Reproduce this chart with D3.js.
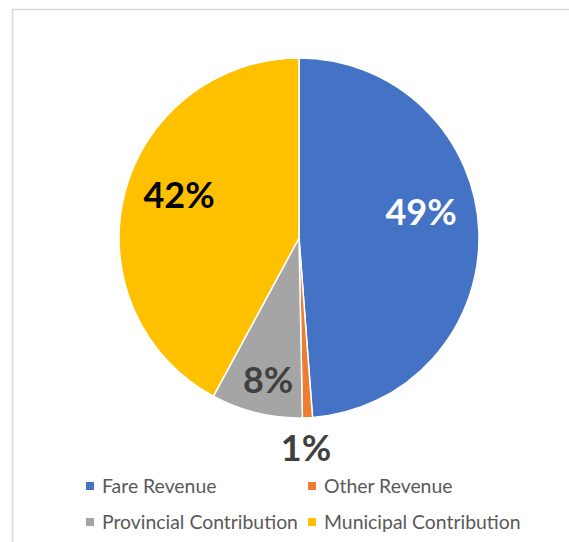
<!DOCTYPE html>
<html>
<head>
<meta charset="utf-8">
<script src="https://cdn.jsdelivr.net/npm/d3@7"></script>
<style>
  body { margin: 0; background: #fff; }
  svg { display: block; }
</style>
</head>
<body>
<div id="chart"></div>
<script>
var svgWidth = 569;
var svgHeight = 542;

// Data
var categories = ["Fare Revenue", "Other Revenue", "Provincial Contribution", "Municipal Contribution"];
var shares = [48.8, 0.9, 8.2, 42.1];
var sliceColors = ["#4472C4", "#ED7D31", "#A5A5A5", "#FFC000"];
var labelColors = ["#ffffff", "#404040", "#404040", "#000000"];

// label placement (Excel "best fit"): distance as fraction of radius, and angle shift from mid-angle in degrees
var labelRadius = [0.693, 1.167, 0.807, 0.708];
var labelShift = [-9.8, 0.8, -1.4, 5.5];

var cx = 299, cy = 238, radius = 180;

var svg = d3.select("#chart")
  .append("svg")
  .attr("width", svgWidth)
  .attr("height", svgHeight);

// chart area border
svg.append("rect")
  .attr("x", 12.5)
  .attr("y", 9.5)
  .attr("width", 700)
  .attr("height", 700)
  .attr("fill", "#fff")
  .attr("stroke", "#d9d9d9")
  .attr("stroke-width", 1.5);

var data = categories.map(function(c, i) {
  return { name: c, value: shares[i], i: i };
});

var pie = d3.pie()
  .sort(null)
  .value(function(d) { return d.value; });

var arc = d3.arc()
  .innerRadius(0)
  .outerRadius(radius);

var pieGroup = svg.append("g")
  .attr("transform", `translate(${cx}, ${cy})`);

var arcs = pie(data);

pieGroup.selectAll("path")
  .data(arcs)
  .enter()
  .append("path")
  .attr("d", arc)
  .attr("fill", function(d) { return sliceColors[d.data.i]; })
  .attr("stroke", "#fff")
  .attr("stroke-width", 1.5)
  .attr("stroke-linejoin", "round");

// percentage labels
pieGroup.selectAll("text.pct")
  .data(arcs)
  .enter()
  .append("text")
  .attr("class", "pct")
  .attr("transform", function(d) {
    var r = radius * labelRadius[d.data.i];
    var a = (d.startAngle + d.endAngle) / 2 + labelShift[d.data.i] * Math.PI / 180;
    return `translate(${Math.sin(a) * r}, ${-Math.cos(a) * r})`;
  })
  .attr("text-anchor", "middle")
  .attr("dy", "0.36em")
  .attr("font-family", "Lato, 'Open Sans', sans-serif")
  .attr("font-weight", "bold")
  .attr("font-size", 36)
  .attr("fill", function(d) { return labelColors[d.data.i]; })
  .text(function(d) { return Math.round(d.data.value) + "%"; });

// legend
var legendCols = [86, 308];
var legendRows = [486, 522];

var legend = svg.selectAll("g.legend")
  .data(data)
  .enter()
  .append("g")
  .attr("class", "legend")
  .attr("transform", function(d) {
    return `translate(${legendCols[d.i % 2]}, ${legendRows[Math.floor(d.i / 2)]})`;
  });

legend.append("rect")
  .attr("x", 0)
  .attr("y", -4)
  .attr("width", 8)
  .attr("height", 8)
  .attr("fill", function(d) { return sliceColors[d.i]; });

legend.append("text")
  .attr("x", 16)
  .attr("dy", "0.36em")
  .attr("font-family", "Lato, 'Open Sans', sans-serif")
  .attr("font-size", 19.4)
  .attr("fill", "#595959")
  .text(function(d) { return d.name; });
</script>
</body>
</html>
